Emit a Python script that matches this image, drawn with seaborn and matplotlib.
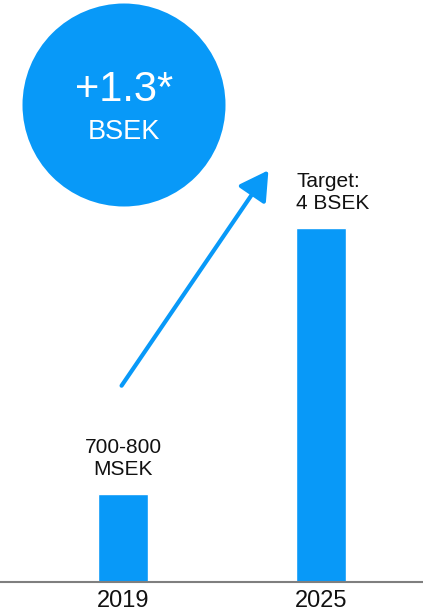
import matplotlib
matplotlib.use("Agg")
import matplotlib.pyplot as plt
import seaborn as sns
import pandas as pd
from matplotlib.patches import Ellipse, FancyArrowPatch

years = ["2019", "2025"]
sales_bsek = [1.0, 4.0]
bar_labels = ["700-800\nMSEK", "Target:\n4 BSEK"]
growth_text = "+1.3*"
growth_unit = "BSEK"

blue = "#0899f8"

sns.set_theme(style="white")
plt.rcParams["font.family"] = ["Liberation Sans", "DejaVu Sans"]

df = pd.DataFrame({"year": years, "sales": sales_bsek})

W, H = 423, 613
fig = plt.figure(figsize=(W / 100, H / 100), dpi=100)
ax = fig.add_axes([0, (H - 582) / H, 1, 582 / H])

sns.barplot(data=df, x="year", y="sales", color=blue, saturation=1,
            width=0.25, ax=ax)

ax.set_xlim(-0.621, 1.515)
ax.set_ylim(0, 6.58)
ax.set_xlabel("")
ax.set_ylabel("")
ax.set_yticks([])
for s in ["top", "left", "right"]:
    ax.spines[s].set_visible(False)
ax.spines["bottom"].set_color("#7f7f7f")
ax.spines["bottom"].set_linewidth(1.5)
ax.tick_params(axis="x", length=0, pad=6, labelsize=17, labelcolor="#111111")

# bar labels
ax.text(0, sales_bsek[0] + 0.17, bar_labels[0], ha="center", va="bottom",
        fontsize=15, color="#111111", linespacing=1.2)
ax.text(1 - 0.126, sales_bsek[1] + 0.17, bar_labels[1], ha="left", va="bottom",
        fontsize=15, color="#111111", linespacing=1.2)

# growth arrow
fig.patches.append(FancyArrowPatch(
    (120 / W, 1 - 388 / H), (270 / W, 1 - 168 / H),
    transform=fig.transFigure, arrowstyle="-|>,head_length=7,head_width=4",
    mutation_scale=2.5, color=blue, linewidth=3))

# circle with growth text
fig.add_artist(Ellipse((124 / W, 1 - 105 / H), 203 / W, 203 / H,
                       transform=fig.transFigure, color=blue, lw=0))
fig.text(124 / W, 1 - 90 / H, growth_text, ha="center", va="center",
         fontsize=30, color="white")
fig.text(124 / W, 1 - 132 / H, growth_unit, ha="center", va="center",
         fontsize=19.5, color="white")

fig.savefig("out.png", dpi=100)
